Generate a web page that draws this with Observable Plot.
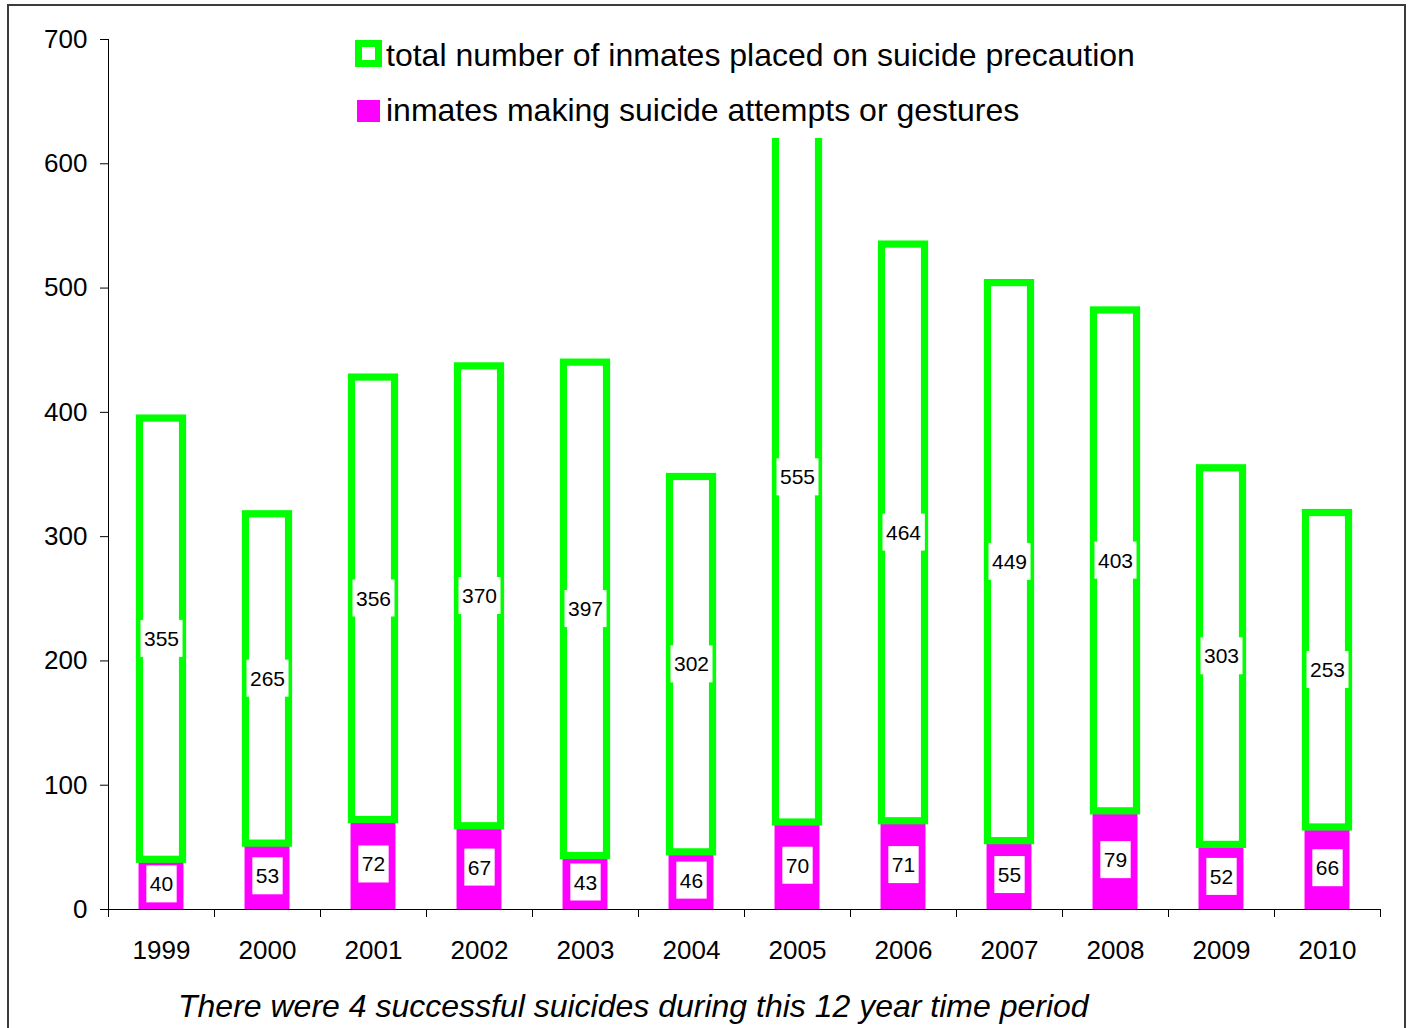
<!DOCTYPE html>
<html><head><meta charset="utf-8">
<script src="https://cdn.jsdelivr.net/npm/d3@7"></script>
<script src="https://cdn.jsdelivr.net/npm/@observablehq/plot@0.6"></script>
<style>
html,body{margin:0;padding:0;background:#fff;overflow:hidden;}
#wrap{position:relative;width:1411px;height:1028px;font-family:"Liberation Sans",Arial,sans-serif;color:#000;}
#chart{position:absolute;left:0;top:0;}
#frame{position:absolute;left:7px;top:4px;width:1399px;height:1100px;border:2px solid #3c3c3c;box-sizing:border-box;pointer-events:none;}
#legend{position:absolute;left:345px;top:28px;width:800px;height:110px;background:#fff;}
.sw{position:absolute;box-sizing:border-box;}
.lt{position:absolute;font-size:32px;line-height:32px;white-space:nowrap;}
#note{position:absolute;left:178px;top:990px;font-size:32px;line-height:32px;font-style:italic;white-space:nowrap;}
</style></head>
<body>
<div id="wrap">
  <div id="chart"></div>
  <div id="legend"></div>
  <div id="note"></div>
  <div id="frame"></div>
</div>
<script>
const years = [1999, 2000, 2001, 2002, 2003, 2004, 2005, 2006, 2007, 2008, 2009, 2010];
const attempts = [40, 53, 72, 67, 43, 46, 70, 71, 55, 79, 52, 66];
const precaution = [355, 265, 356, 370, 397, 302, 555, 464, 449, 403, 303, 253];
const yTicks = [0, 100, 200, 300, 400, 500, 600, 700];
const seriesNames = ["total number of inmates placed on suicide precaution", "inmates making suicide attempts or gestures"];
const seriesColors = ["#00ff00", "#ff00ff"];
const noteText = "There were 4 successful suicides during this 12 year time period";

const rows = years.map((year, i) => ({year, attempts: attempts[i], precaution: precaution[i], total: attempts[i] + precaution[i]}));
const bounds = [years[0] - 0.5, ...years.map(y => y + 0.5)];

const plot = Plot.plot({
  width: 1411, height: 1028,
  marginLeft: 108, marginRight: 31, marginTop: 39, marginBottom: 119,
  style: {fontFamily: '"Liberation Sans", Arial, sans-serif', fontSize: "26px", color: "#000", background: "transparent", overflow: "visible"},
  x: {domain: [years[0] - 0.5, years[years.length - 1] + 0.5]},
  y: {domain: [0, 700]},
  marks: [
    Plot.rect(rows, {x1: d => d.year - 0.212, x2: d => d.year + 0.212, y1: 0, y2: "attempts", fill: seriesColors[1]}),
    Plot.rect(rows, {x1: d => d.year - 0.203, x2: d => d.year + 0.203, y1: "attempts", y2: "total", fill: "none", stroke: seriesColors[0], strokeWidth: 7.2}),
    Plot.ruleY([0], {stroke: "#000"}),
    Plot.ruleX([bounds[0]], {stroke: "#000"}),
    Plot.axisY({ticks: yTicks, tickSize: 8, tickPadding: 13, label: null, tickFormat: d => String(d)}),
    Plot.axisX({ticks: years, tickSize: 0, tickPadding: 31, label: null, tickFormat: d => String(d)}),
    Plot.axisX({ticks: bounds, tickSize: 8, label: null, tickFormat: () => ""}),
    Plot.text(rows, {x: "year", y: d => d.attempts / 2, text: d => String(d.attempts), fontSize: 21, fill: "#000"}),
    Plot.text(rows, {x: "year", y: d => d.attempts + d.precaution / 2, text: d => String(d.precaution), fontSize: 21, fill: "#000"})
  ]
});
document.getElementById("chart").appendChild(plot);

// white boxes behind the value labels
plot.querySelectorAll('g[aria-label="text"] text').forEach(t => {
  const b = t.getBBox();
  const r = document.createElementNS("http://www.w3.org/2000/svg", "rect");
  r.setAttribute("x", b.x - 3.5);
  r.setAttribute("y", b.y - 7);
  r.setAttribute("width", b.width + 7);
  r.setAttribute("height", b.height + 14);
  r.setAttribute("fill", "#fff");
  const tr = t.getAttribute("transform");
  if (tr) r.setAttribute("transform", tr);
  t.parentNode.insertBefore(r, t);
});

// legend
const legend = document.getElementById("legend");
const lx = 345, ly = 28;
const sw1 = document.createElement("div");
sw1.className = "sw";
Object.assign(sw1.style, {left: (355 - lx) + "px", top: (40 - ly) + "px", width: "27px", height: "27px", border: "7.5px solid " + seriesColors[0], background: "#fff"});
const sw2 = document.createElement("div");
sw2.className = "sw";
Object.assign(sw2.style, {left: (357 - lx) + "px", top: (100 - ly) + "px", width: "23px", height: "22px", background: seriesColors[1]});
const t1 = document.createElement("div");
t1.className = "lt"; t1.textContent = seriesNames[0];
Object.assign(t1.style, {left: (386 - lx) + "px", top: (39 - ly) + "px"});
const t2 = document.createElement("div");
t2.className = "lt"; t2.textContent = seriesNames[1];
Object.assign(t2.style, {left: (386 - lx) + "px", top: (94 - ly) + "px"});
legend.append(sw1, t1, sw2, t2);

document.getElementById("note").textContent = noteText;
</script>
</body></html>
